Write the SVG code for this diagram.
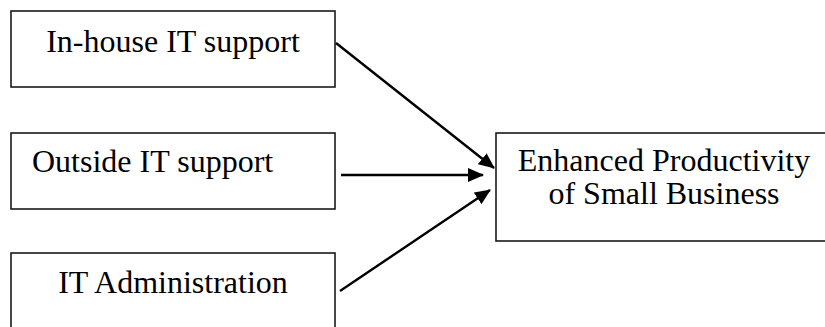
<svg xmlns="http://www.w3.org/2000/svg" width="825" height="327" viewBox="0 0 825 327">
  <style>
    .box { fill: #ffffff; stroke: #1a1a1a; stroke-width: 1.6; }
    .label { font-family: "Liberation Serif", "Times New Roman", serif; font-size: 32px; fill: #000000; }
    .mid { text-anchor: middle; }
    .edge { stroke: #000000; stroke-width: 2.4; fill: none; marker-end: url(#head); }
  </style>
  <defs>
    <marker id="head" markerWidth="16" markerHeight="14" refX="15" refY="7" orient="auto" markerUnits="userSpaceOnUse">
      <path d="M0,0 L16,7 L0,14 Z" fill="#000000"/>
    </marker>
  </defs>

  <rect width="825" height="327" fill="#ffffff"/>

  <g id="in-house">
    <rect class="box" x="11" y="11" width="324" height="76"/>
    <text class="label mid" x="173" y="52">In-house IT support</text>
  </g>

  <g id="outside">
    <rect class="box" x="11" y="133" width="324" height="76"/>
    <text class="label" x="32" y="172">Outside IT support</text>
  </g>

  <g id="administration">
    <rect class="box" x="11" y="253" width="324" height="90"/>
    <text class="label mid" x="173" y="293">IT Administration</text>
  </g>

  <g id="productivity">
    <rect class="box" x="496" y="133" width="340" height="108"/>
    <text class="label mid" x="664" y="171">Enhanced Productivity</text>
    <text class="label mid" x="664" y="204">of Small Business</text>
  </g>

  <g id="connectors">
    <line class="edge" x1="336" y1="43" x2="494" y2="168"/>
    <line class="edge" x1="341" y1="175" x2="483" y2="175"/>
    <line class="edge" x1="340" y1="291" x2="490" y2="190"/>
  </g>
</svg>
